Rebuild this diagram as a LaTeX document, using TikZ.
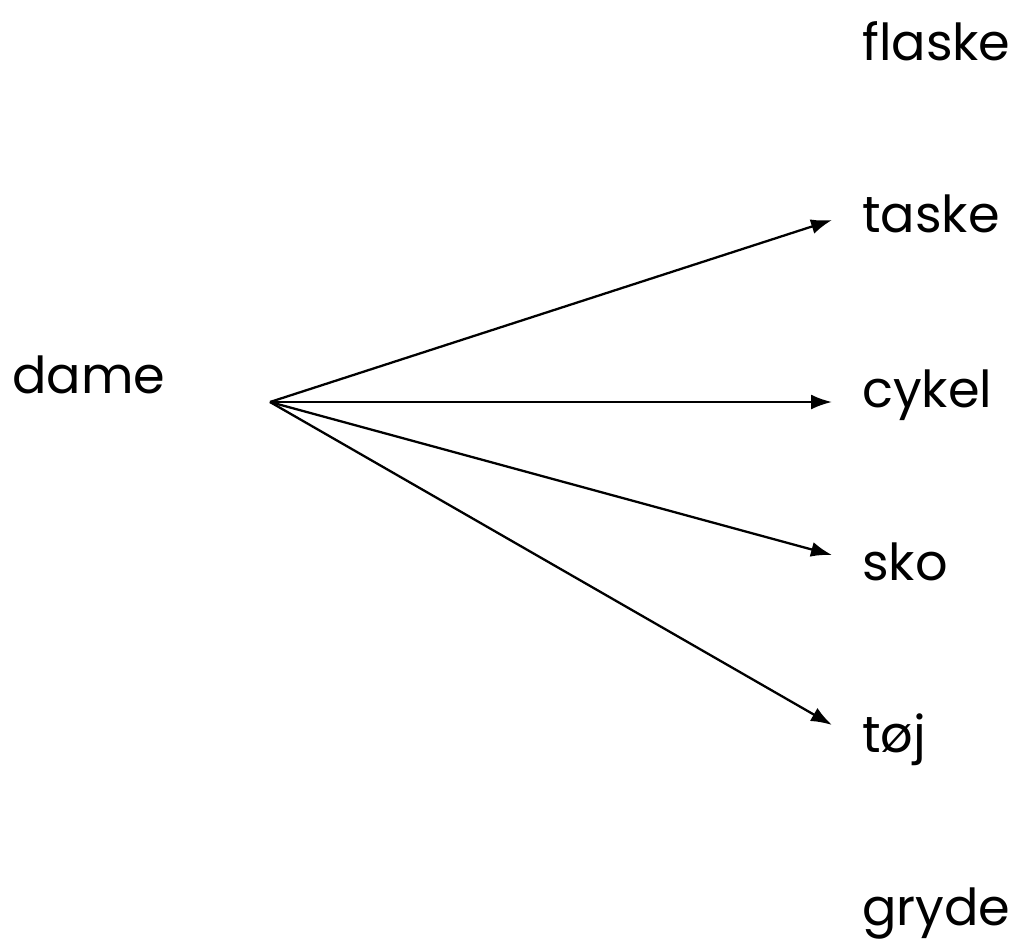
\documentclass[tikz,border=0pt]{standalone}
\usepackage{fontspec}
\setmainfont{Poppins}
\usetikzlibrary{arrows.meta, positioning}

\tikzset{
    word/.style={anchor=base west, inner sep=0pt, font=\fontsize{29}{34}\selectfont},
    link/.style={-{Latex[length=4.2mm, width=3mm]}, line width=1.3pt},
}

\begin{document}
\begin{tikzpicture}[x=0.02cm, y=-0.02cm]
    \useasboundingbox (0,0) rectangle (1029,941);
    % words
    \node[word] (dame) at (12,393) {dame};
    \node[word] (flaske) at (862,60) {flaske};
    \node[word] (taske) at (862,232) {taske};
    \node[word] (cykel) at (862,407) {cykel};
    \node[word] (sko) at (862,580) {sko};
    \node[word] (toj) at (862,752) {tøj};
    \node[word] (gryde) at (862,925) {gryde};
    % arrows
    \coordinate (o) at (270,402);
    \coordinate (taskein) at (832,220);
    \coordinate (cykelin) at (832,402);
    \coordinate (skoin) at (832,555);
    \coordinate (tojin) at (832,725);
    \draw[link] (o) -- (taskein);
    \draw[link] (o) -- (cykelin);
    \draw[link] (o) -- (skoin);
    \draw[link] (o) -- (tojin);
\end{tikzpicture}
\end{document}
